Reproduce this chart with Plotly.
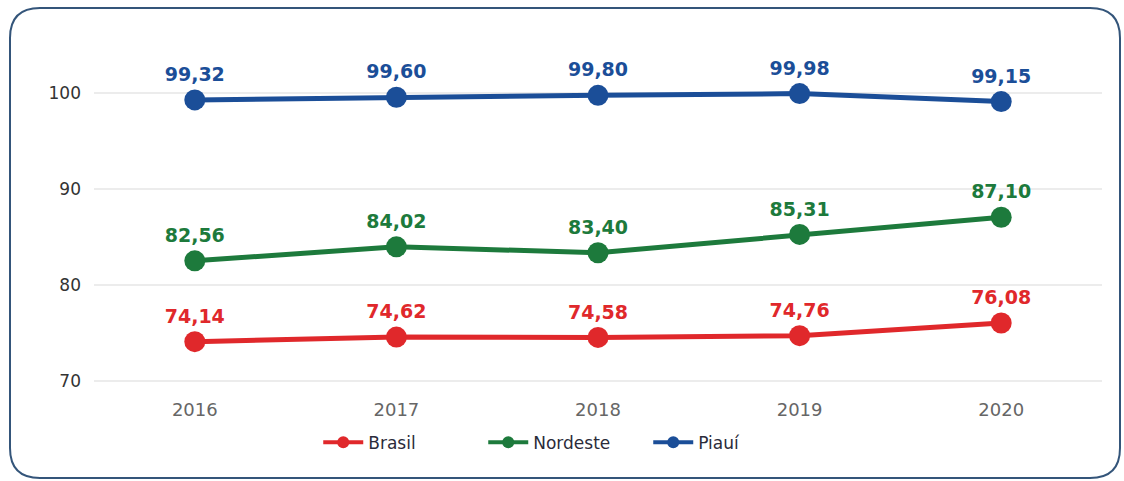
import plotly.graph_objects as go

anos = ["2016", "2017", "2018", "2019", "2020"]
brasil = [74.14, 74.62, 74.58, 74.76, 76.08]
nordeste = [82.56, 84.02, 83.40, 85.31, 87.10]
piaui = [99.32, 99.60, 99.80, 99.98, 99.15]

series = [
    ("Brasil", brasil, "#e0282b"),
    ("Nordeste", nordeste, "#1d7a3c"),
    ("Piauí", piaui, "#1b4e98"),
]

W, H = 1124, 481
L, R, T, B = 94, 22, 55, 90
FONT = "DejaVu Sans"

fig = go.Figure()
for nome, vals, cor in series:
    fig.add_trace(go.Scatter(
        x=anos, y=vals, name=nome, mode="lines+markers+text",
        line=dict(color=cor, width=5),
        marker=dict(color=cor, size=21),
        text=[f"{v:.2f}".replace(".", ",") for v in vals],
        textposition="top center",
        textfont=dict(color=cor, size=19, family=FONT, weight="bold"),
        cliponaxis=False, showlegend=False,
    ))

# legend entries with slimmer line and smaller dot
for nome, vals, cor in series:
    fig.add_trace(go.Scatter(
        x=[None], y=[None], name=nome, mode="lines+markers",
        line=dict(color=cor, width=4), marker=dict(color=cor, size=12),
    ))

# rounded frame around the chart, expressed in paper coordinates
pw, ph = W - L - R, H - T - B
def px(x):
    return (x - L) / pw
def py(y):
    return (H - B - y) / ph

x0, x1, y0, y1, rad = 10, 1120, 8, 478, 30
path = (
    f"M {px(x0 + rad)},{py(y0)} L {px(x1 - rad)},{py(y0)} "
    f"Q {px(x1)},{py(y0)} {px(x1)},{py(y0 + rad)} "
    f"L {px(x1)},{py(y1 - rad)} Q {px(x1)},{py(y1)} {px(x1 - rad)},{py(y1)} "
    f"L {px(x0 + rad)},{py(y1)} Q {px(x0)},{py(y1)} {px(x0)},{py(y1 - rad)} "
    f"L {px(x0)},{py(y0 + rad)} Q {px(x0)},{py(y0)} {px(x0 + rad)},{py(y0)} Z"
)
fig.add_shape(type="path", path=path, xref="paper", yref="paper",
              line=dict(color="#34557a", width=2), layer="below")

fig.update_layout(
    width=W, height=H,
    margin=dict(l=L, r=R, t=T, b=B),
    paper_bgcolor="white", plot_bgcolor="white",
    font=dict(family=FONT, color="#444"),
    showlegend=True,
    legend=dict(orientation="h", x=0.468, xanchor="center", y=-0.1, yanchor="top",
                font=dict(size=17, color="#2b2b3a"), itemwidth=40,
                entrywidth=110, entrywidthmode="pixels",
                itemsizing="trace"),
    xaxis=dict(range=[-0.5, 4.5], showgrid=False, zeroline=False, showline=False,
               tickfont=dict(size=18, color="#666"), ticks="", ticklabelstandoff=6),
    yaxis=dict(range=[69, 104], tickvals=[70, 80, 90, 100], showgrid=True,
               gridcolor="#ececec", gridwidth=1.5, zeroline=False, showline=False,
               tickfont=dict(size=17, color="#333"), ticks="", ticklabelstandoff=12),
)

fig.write_html("out.html")
